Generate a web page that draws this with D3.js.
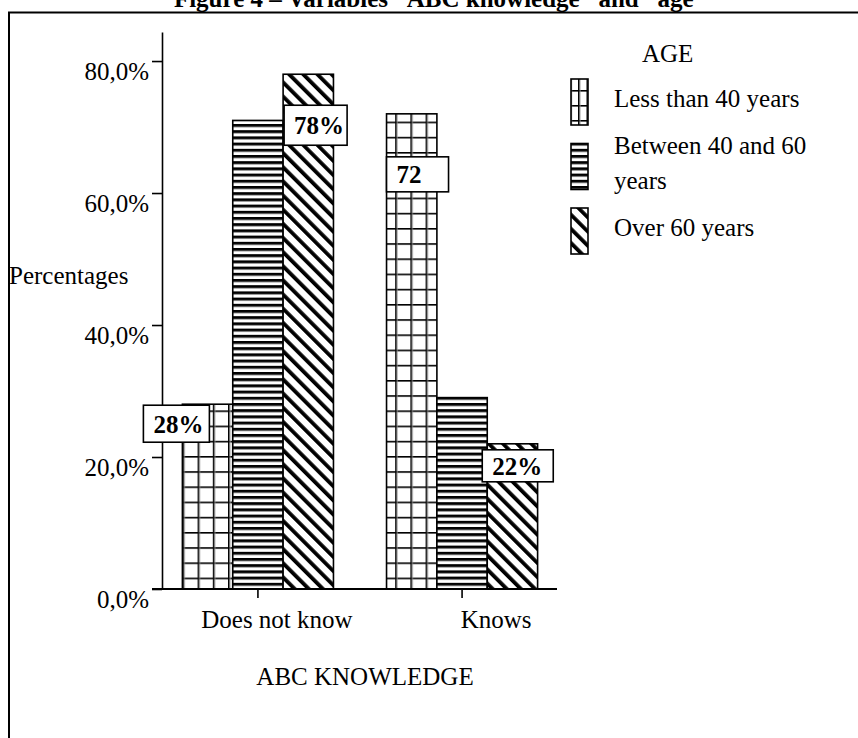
<!DOCTYPE html>
<head>
<meta charset="utf-8" />
<script src="https://d3js.org/d3.v7.min.js"></script>
<style>
    body {
        margin: 0;
        background: #fff;
        font-family: "Liberation Serif", "Times New Roman", serif;
    }
</style>
</head>

<body>
    <div id="chart"></div>

    <script>
        // data
        var categories = ["Does not know", "Knows"];
        var seriesNames = ["Less than 40 years", "Between 40 and 60 years", "Over 60 years"];
        var lessThan40 = [28, 72];
        var between40and60 = [71, 29];
        var over60 = [78, 22];
        var yTicks = [0, 20, 40, 60, 80];
        var barLabels = [
            { cat: "Does not know", s: 0, text: "28%" },
            { cat: "Does not know", s: 2, text: "78%" },
            { cat: "Knows", s: 0, text: "72" },
            { cat: "Knows", s: 2, text: "22%" }
        ];

        var values = [lessThan40, between40and60, over60];
        var rows = [];
        categories.forEach(function(c, ci) {
            values.forEach(function(v, si) {
                rows.push({ cat: c, s: si, value: v[ci] });
            });
        });

        var width = 858, height = 738;
        var font = "'Liberation Serif', 'Times New Roman', serif";

        var svg = d3.select("#chart")
                    .append("svg")
                    .attr("width", width)
                    .attr("height", height)
                    .style("font-family", font);

        // fill patterns
        var defs = svg.append("defs");

        function gridPattern(id, w, h) {
            var p = defs.append("pattern").attr("id", id)
                .attr("patternUnits", "userSpaceOnUse")
                .attr("width", w).attr("height", h);
            p.append("rect").attr("width", w).attr("height", h).attr("fill", "#fff");
            p.append("rect").attr("x", 0).attr("y", 0).attr("width", 1.6).attr("height", h).attr("fill", "#000");
            p.append("rect").attr("x", 0).attr("y", 0).attr("width", w).attr("height", 1.6).attr("fill", "#000");
            p.append("rect").attr("x", 1.6).attr("y", 0).attr("width", 0.8).attr("height", h).attr("fill", "#999");
        }
        gridPattern("grid", 15.2, 15.2);
        gridPattern("gridLegend", 8.5, 15);

        var hp = defs.append("pattern").attr("id", "hlines")
            .attr("patternUnits", "userSpaceOnUse")
            .attr("width", 10).attr("height", 6.2);
        hp.append("rect").attr("width", 10).attr("height", 6.2).attr("fill", "#fff");
        hp.append("rect").attr("y", 0).attr("width", 10).attr("height", 2.6).attr("fill", "#000");
        hp.append("rect").attr("y", 2.6).attr("width", 10).attr("height", 0.8).attr("fill", "#888");

        // "\" stripes
        var dp = defs.append("pattern").attr("id", "diag")
            .attr("patternUnits", "userSpaceOnUse")
            .attr("width", 10).attr("height", 10)
            .attr("patternTransform", "rotate(-45)");
        dp.append("rect").attr("width", 10).attr("height", 10).attr("fill", "#fff");
        dp.append("rect").attr("x", 0).attr("width", 3.8).attr("height", 10).attr("fill", "#000");

        var fills = ["url(#grid)", "url(#hlines)", "url(#diag)"];
        var legendFills = ["url(#gridLegend)", "url(#hlines)", "url(#diag)"];

        // frame and title
        svg.append("path")
            .attr("d", "M9,738 V12.5 H858")
            .attr("fill", "none")
            .attr("stroke", "#000")
            .attr("stroke-width", 2);

        svg.append("text")
            .attr("x", 440)
            .attr("y", 7)
            .attr("text-anchor", "middle")
            .style("font-size", "25px")
            .style("font-weight", "bold")
            .text("Figure 4 \u2013 Variables \u201CABC knowledge\u201D and \u201Cage\u201D");

        // scales
        var y = d3.scaleLinear().domain([0, 84.4]).range([589, 32]);
        var x = d3.scaleBand().domain(categories).range([163, 557])
            .paddingInner(0.26).paddingOuter(0.095);
        var xs = d3.scaleBand().domain(d3.range(seriesNames.length)).range([0, x.bandwidth()]);

        // y axis
        var yAxis = svg.append("g")
            .attr("transform", "translate(162,0)")
            .call(d3.axisLeft(y).tickValues(yTicks).tickSize(10).tickSizeOuter(0)
                .tickFormat(function(d) { return d3.format(".1f")(d).replace(".", ",") + "%"; }));
        yAxis.select(".domain").attr("stroke", "#000").attr("stroke-width", 1.6);
        yAxis.selectAll(".tick line").attr("stroke", "#000").attr("stroke-width", 1.6);
        yAxis.selectAll(".tick text")
            .attr("x", -13)
            .attr("dy", null)
            .attr("y", 18)
            .attr("fill", "#000")
            .style("font-size", "25px")
            .style("font-family", font);

        // bars
        svg.append("g")
            .selectAll("rect")
            .data(rows)
            .join("rect")
            .attr("x", function(d) { return x(d.cat) + xs(d.s); })
            .attr("y", function(d) { return y(d.value); })
            .attr("width", xs.bandwidth())
            .attr("height", function(d) { return y(0) - y(d.value); })
            .attr("fill", function(d) { return fills[d.s]; })
            .attr("stroke", "#000")
            .attr("stroke-width", 1.6);

        // x axis
        svg.append("line")
            .attr("x1", 152).attr("x2", x.range()[1])
            .attr("y1", y(0)).attr("y2", y(0))
            .attr("stroke", "#000").attr("stroke-width", 2);

        var catShift = [19, 34];   // labels sit right of their ticks
        var xAxis = svg.append("g")
            .attr("transform", "translate(0," + y(0) + ")")
            .call(d3.axisBottom(x).tickSize(9).tickSizeOuter(0));
        xAxis.select(".domain").remove();
        xAxis.selectAll(".tick line").attr("stroke", "#000").attr("stroke-width", 1.6);
        xAxis.selectAll(".tick text")
            .attr("y", 39)
            .attr("dy", null)
            .attr("dx", function(d, i) { return catShift[i]; })
            .attr("fill", "#000")
            .style("font-size", "25px")
            .style("font-family", font);

        svg.append("text")
            .attr("x", 365).attr("y", 685)
            .attr("text-anchor", "middle")
            .style("font-size", "25px")
            .text("ABC KNOWLEDGE");

        svg.append("text")
            .attr("x", 9).attr("y", 284)
            .style("font-size", "25px")
            .text("Percentages");

        // value boxes on bars (offsets from bar's top-left corner)
        var boxLayout = [
            { dx: -39, dy: 1, w: 66, h: 37 },
            { dx: 1, dy: 31, w: 63, h: 40 },
            { dx: 0, dy: 43, w: 62, h: 35 },
            { dx: -5, dy: 6, w: 71, h: 32 }
        ];
        var labelG = svg.append("g");
        barLabels.forEach(function(l, i) {
            var b = boxLayout[i];
            var ci = categories.indexOf(l.cat);
            var bx = x(l.cat) + xs(l.s) + b.dx;
            var by = y(values[l.s][ci]) + b.dy;
            labelG.append("rect")
                .attr("x", bx).attr("y", by)
                .attr("width", b.w).attr("height", b.h)
                .attr("fill", "#fff")
                .attr("stroke", "#000")
                .attr("stroke-width", 1.6);
            labelG.append("text")
                .attr("x", bx + 10)
                .attr("y", by + b.h / 2 + 9)
                .style("font-size", "25px")
                .style("font-weight", "bold")
                .text(l.text);
        });

        // legend
        var legend = svg.append("g");
        legend.append("text")
            .attr("x", 642).attr("y", 62)
            .style("font-size", "25px")
            .text("AGE");

        seriesNames.forEach(function(name, i) {
            var top = 79 + i * 64.5;
            legend.append("rect")
                .attr("x", 571).attr("y", top)
                .attr("width", 17).attr("height", 46)
                .attr("fill", legendFills[i])
                .attr("stroke", "#000")
                .attr("stroke-width", 1.6);

            var t = legend.append("text")
                .attr("x", 614)
                .style("font-size", "25px");
            // wrap long labels
            var words = name.split(" "), lines = [], line = [];
            var probe = t.append("tspan");
            words.forEach(function(w) {
                line.push(w);
                probe.text(line.join(" "));
                if (probe.node().getComputedTextLength() > 225 && line.length > 1) {
                    line.pop();
                    lines.push(line.join(" "));
                    line = [w];
                }
            });
            lines.push(line.join(" "));
            probe.remove();
            var center = top + 23;
            var first = center + 5 - (lines.length - 1) * 17.5;
            lines.forEach(function(s, k) {
                t.append("tspan")
                    .attr("x", 614)
                    .attr("y", first + k * 35)
                    .text(s);
            });
        });
    </script>
</body>
